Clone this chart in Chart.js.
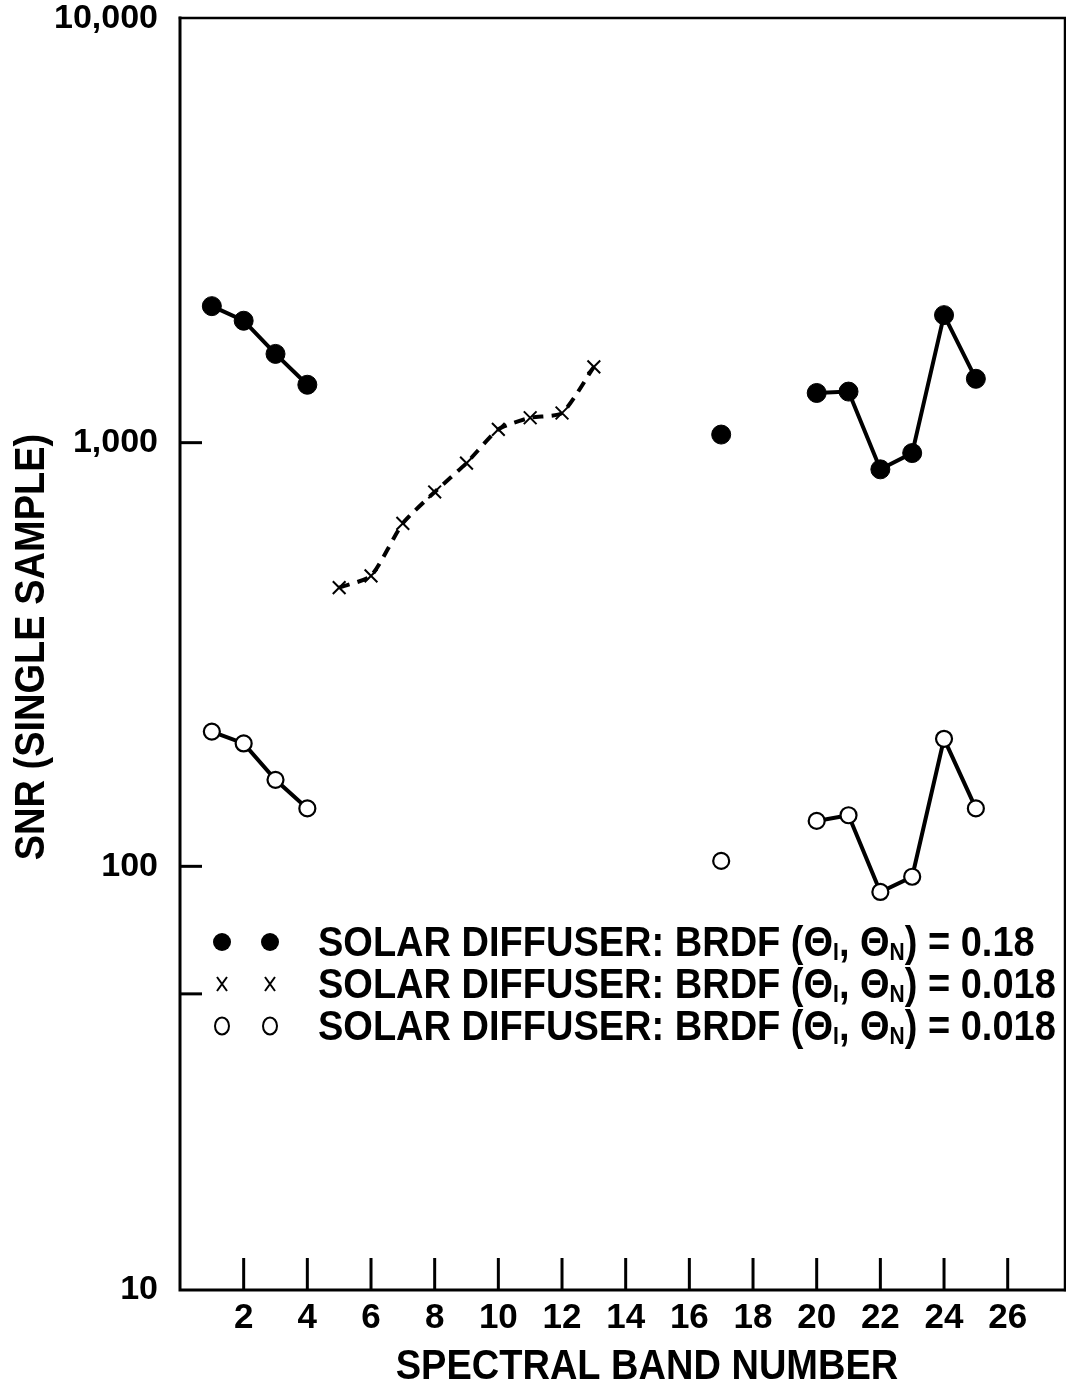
<!DOCTYPE html>
<html>
<head>
<meta charset="utf-8">
<script src="https://cdn.jsdelivr.net/npm/chart.js@4/dist/chart.umd.min.js"></script>
<style>
html,body{margin:0;padding:0;background:#fff;}
#wrap{width:1066px;height:1385px;position:relative;}
</style>
</head>
<body>
<div id="wrap"><canvas id="c" width="1066" height="1385"></canvas></div>
<script>
// ---- data ----
const solidBands = [1, 2, 3, 4, 17, 20, 21, 22, 23, 24, 25];
const snrSolid   = [2100, 1940, 1620, 1370, 1045, 1310, 1320, 865, 945, 2000, 1415];
const crossBands = [5, 6, 7, 8, 9, 10, 11, 12, 13];
const snrCross   = [455, 485, 645, 765, 895, 1075, 1145, 1175, 1510];
const openBands  = [1, 2, 3, 4, 17, 20, 21, 22, 23, 24, 25];
const snrOpen    = [208, 195, 160, 137, 103, 128, 132, 87, 94.5, 200, 137];

const xTickValues = [2, 4, 6, 8, 10, 12, 14, 16, 18, 20, 22, 24, 26];
const yTickValues = [10, 50, 100, 1000, 10000];
const yTickLabels = {10: '10', 100: '100', 1000: '1,000', 10000: '10,000'};
const legendValues = ['0.18', '0.018', '0.018'];
const xTitle = 'SPECTRAL BAND NUMBER';
const yTitle = 'SNR (SINGLE SAMPLE)';

const FONT = '"Liberation Sans", Arial, Helvetica, sans-serif';

function pts(xs, ys){ return xs.map((x,i)=>({x:x, y:ys[i]})); }
const gapSeg = { borderColor: ctx => (ctx.p1.parsed.x - ctx.p0.parsed.x > 1.5) ? 'rgba(0,0,0,0)' : '#000' };

const framePlugin = {
  id: 'frame',
  beforeDatasetsDraw(chart){
    const ctx = chart.ctx, a = chart.chartArea;
    const xs = chart.scales.x, ys = chart.scales.y;
    ctx.save();
    ctx.strokeStyle = '#000';
    ctx.lineCap = 'square';
    ctx.lineWidth = 3;
    ctx.beginPath();
    ctx.moveTo(a.left, a.top - 1); ctx.lineTo(a.left, a.bottom); ctx.lineTo(chart.width, a.bottom);
    ctx.stroke();
    ctx.lineWidth = 2.5;
    ctx.beginPath();
    ctx.moveTo(a.left, a.top - 1); ctx.lineTo(a.right, a.top - 1); ctx.lineTo(a.right, a.bottom);
    ctx.stroke();
    ctx.lineWidth = 3;
    ctx.lineCap = 'butt';
    xTickValues.forEach(v => {
      const px = xs.getPixelForValue(v);
      ctx.beginPath(); ctx.moveTo(px, a.bottom); ctx.lineTo(px, a.bottom - 32); ctx.stroke();
    });
    [50, 100, 1000].forEach(v => {
      const py = ys.getPixelForValue(v);
      ctx.beginPath(); ctx.moveTo(a.left, py); ctx.lineTo(a.left + 22, py); ctx.stroke();
    });
    ctx.restore();
  },
  afterDraw(chart){
    const ctx = chart.ctx;
    ctx.save();
    ctx.fillStyle = '#000';
    ctx.font = 'bold 38px ' + FONT;
    ctx.textAlign = 'center';
    ctx.textBaseline = 'alphabetic';
    ctx.save();
    ctx.translate(647, 1379);
    ctx.scale(1, 1.1);
    ctx.fillText(xTitle, 0, 0);
    ctx.restore();
    ctx.save();
    ctx.translate(44, 647);
    ctx.rotate(-Math.PI/2);
    ctx.scale(1, 1.1);
    ctx.fillText(yTitle, 0, 0);
    ctx.restore();

    const rows = [956, 998, 1040];
    const symX = [222, 270];
    rows.forEach((by, i) => {
      const cy = by - 14;
      symX.forEach(sx => {
        ctx.lineWidth = 2;
        ctx.strokeStyle = '#000';
        if (i === 0) {
          ctx.beginPath(); ctx.arc(sx, cy, 9, 0, Math.PI*2); ctx.fill();
        } else if (i === 1) {
          ctx.beginPath();
          ctx.moveTo(sx-5, cy-7); ctx.lineTo(sx+5, cy+7);
          ctx.moveTo(sx+5, cy-7); ctx.lineTo(sx-5, cy+7);
          ctx.stroke();
        } else {
          ctx.beginPath(); ctx.ellipse(sx, cy, 7, 8.5, 0, 0, Math.PI*2); ctx.stroke();
        }
      });
      ctx.save();
      ctx.translate(318, by);
      ctx.scale(1, 1.1);
      let x = 0;
      ctx.textAlign = 'left';
      const big = 'bold 38px ' + FONT, small = 'bold 21px ' + FONT;
      const parts = [
        ['SOLAR DIFFUSER: BRDF (\u0398', big, 0],
        ['I', small, 4],
        [', \u0398', big, 0],
        ['N', small, 4],
        [') = ' + legendValues[i], big, 0]
      ];
      parts.forEach(p => {
        ctx.font = p[1];
        ctx.fillText(p[0], x, p[2]);
        x += ctx.measureText(p[0]).width;
      });
      ctx.restore();
    });
    ctx.restore();
  }
};

new Chart(document.getElementById('c'), {
  type: 'line',
  data: {
    datasets: [
      {
        label: 'solid', data: pts(solidBands, snrSolid),
        borderColor: '#000', borderWidth: 4, backgroundColor: '#000',
        pointStyle: 'circle', pointRadius: 9.5, pointBackgroundColor: '#000', pointBorderColor: '#000', pointBorderWidth: 1,
        segment: gapSeg, tension: 0
      },
      {
        label: 'cross', data: pts(crossBands, snrCross),
        borderColor: '#000', borderWidth: 4, borderDash: [11, 8],
        pointStyle: 'crossRot', pointRadius: 9, pointBorderColor: '#000', pointBorderWidth: 2, tension: 0.2
      },
      {
        label: 'open', data: pts(openBands, snrOpen),
        borderColor: '#000', borderWidth: 4, backgroundColor: '#fff',
        pointStyle: 'circle', pointRadius: 8, pointBackgroundColor: '#fff', pointBorderColor: '#000', pointBorderWidth: 2.2,
        segment: gapSeg, tension: 0
      }
    ]
  },
  options: {
    responsive: false,
    animation: false,
    devicePixelRatio: 1,
    layout: { autoPadding: false, padding: { top: 19, right: 1, left: 0, bottom: 0 } },
    plugins: { legend: { display: false }, tooltip: { enabled: false } },
    scales: {
      x: {
        type: 'linear', min: 0, max: 27.8,
        grid: { display: false, drawTicks: false },
        border: { display: false },
        afterBuildTicks: s => { s.ticks = xTickValues.map(v => ({value: v})); },
        afterFit: s => { s.height = 95; s.paddingLeft = 0; s.paddingRight = 0; },
        ticks: { padding: 11, color: '#000', font: { family: FONT, size: 35, weight: 'bold', lineHeight: 1 }, maxRotation: 0, autoSkip: false,
                 callback: v => String(v) }
      },
      y: {
        type: 'logarithmic', min: 10, max: 10000,
        grid: { display: false, drawTicks: false },
        border: { display: false },
        afterBuildTicks: s => { s.ticks = yTickValues.map(v => ({value: v})); },
        afterFit: s => { s.width = 180; s.paddingTop = 0; s.paddingBottom = 0; },
        ticks: { padding: 22, color: '#000', font: { family: FONT, size: 34, weight: 'bold', lineHeight: 1 }, autoSkip: false,
                 callback: v => yTickLabels[v] || '' }
      }
    }
  },
  plugins: [framePlugin]
});
</script>
</body>
</html>
